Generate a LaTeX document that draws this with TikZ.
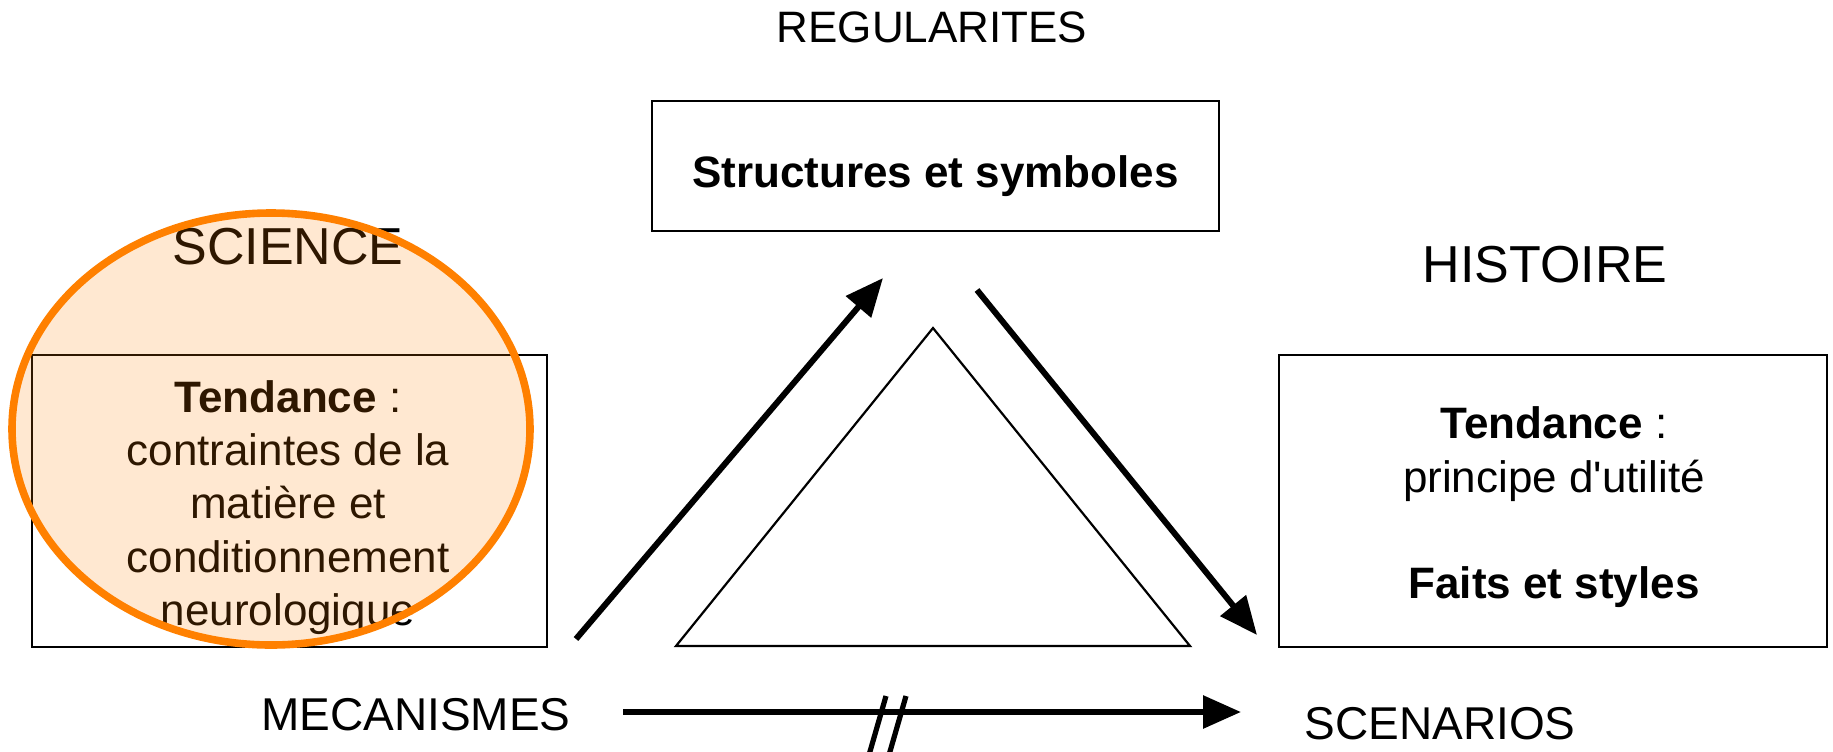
\documentclass[tikz,border=0pt]{standalone}
\usepackage{fontspec}
\setmainfont{Liberation Sans}
\usetikzlibrary{arrows.meta}
\definecolor{ringorange}{RGB}{255,128,0}
\begin{document}
\begin{tikzpicture}[x=0.5pt,y=-0.5pt,
  txt/.style={inner sep=0pt, anchor=base, font=\fontsize{22}{26}\selectfont},
  bigtxt/.style={inner sep=0pt, anchor=base, font=\fontsize{26}{30}\selectfont},
  lbltxt/.style={inner sep=0pt, anchor=base, font=\fontsize{23}{27}\selectfont},
  boxst/.style={draw, line width=1.4pt, inner sep=0pt},
  arr/.style={line width=3pt, -{Triangle[length=19pt,width=16pt]}},
  slash/.style={line width=2.6pt},
]
\useasboundingbox (0,0) rectangle (1833,751);

% boxes
\node[boxst, minimum width=283.5pt, minimum height=65pt] (topbox) at (935.5,166) {};
\node[boxst, minimum width=257.5pt, minimum height=146pt] (leftbox) at (289.5,501) {};
\node[boxst, minimum width=274pt, minimum height=146pt] (rightbox) at (1553,501) {};

% titles
\node[txt] (regul) at (932,42) {REGULARITES};
\node[txt] (struct) at (935.5,187) {\textbf{Structures et symboles}};
\node[bigtxt] (science) at (288,264) {SCIENCE};
\node[bigtxt] (histoire) at (1545,282) {HISTOIRE};
\node[lbltxt] (meca) at (416,730) {MECANISMES};
\node[lbltxt] (scen) at (1440,739) {SCENARIOS};

% left box text
\node[txt] (l1) at (288,412) {\textbf{Tendance} :};
\node[txt] (l2) at (288,465) {contraintes de la};
\node[txt] (l3) at (288,518) {matière et};
\node[txt] (l4) at (288,572) {conditionnement};
\node[txt] (l5) at (288,625) {neurologique};

% right box text
\node[txt] (r1) at (1554,438) {\textbf{Tendance} :};
\node[txt] (r2) at (1554,492) {principe d\textquotesingle utilité};
\node[txt] (r3) at (1554,598) {\textbf{Faits et styles}};

% triangle
\draw[line width=1.1pt, line join=miter] (933,328) -- (1190,646) -- (676,646) -- cycle;

% arrows
\coordinate (a1s) at (576,639);
\coordinate (a1e) at (883,278);
\coordinate (a2s) at (977,290);
\coordinate (a2e) at (1257,635);
\coordinate (a3s) at (623,712);
\coordinate (a3e) at (1241,712);
\draw[arr] (a1s) -- (a1e);
\draw[arr] (a2s) -- (a2e);
\draw[arr] (a3s) -- (a3e);

% break mark
\draw[slash] (886,696) -- (869,755);
\draw[slash] (906,696) -- (889,755);

% highlight ellipse
\draw[ringorange, line width=3.8pt, fill=ringorange, fill opacity=0.18]
  (271,429) ellipse [x radius=259, y radius=216];
\end{tikzpicture}
\end{document}
